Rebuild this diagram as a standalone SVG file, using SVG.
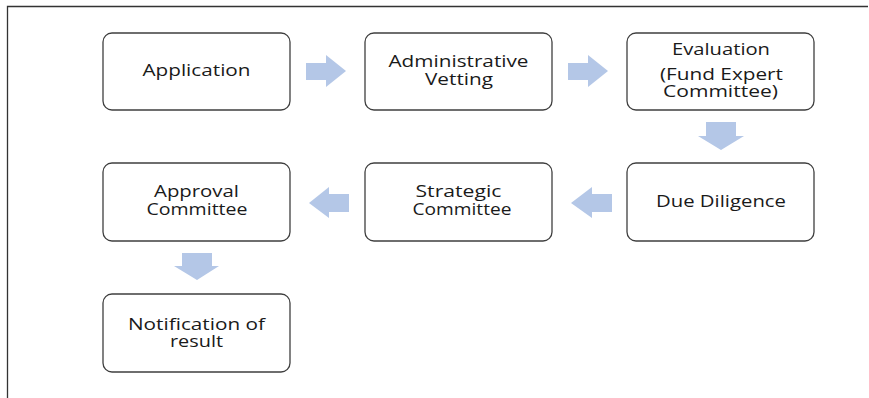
<svg xmlns="http://www.w3.org/2000/svg" width="869" height="398" viewBox="0 0 869 398">
<style>
.box{fill:#ffffff;stroke:#3f3f3f;stroke-width:1.3}
.t{font-family:"Open Sans","Noto Sans",sans-serif;font-size:15.5px;fill:#1a1a1a;text-anchor:middle}
.arr{fill:#b4c7e7}
.frame{stroke:#333333;stroke-width:1.3;fill:none}
</style>
<rect width="869" height="398" fill="#ffffff"/>
<path class="frame" d="M7.5,398 V6.5 H868"/>
<g id="connectors">
<polygon class="arr" points="306,63 326,63 326,55 346,71 326,87 326,80 306,80"/>
<polygon class="arr" points="568,63 588,63 588,55 608,71 588,87 588,80 568,80"/>
<polygon class="arr" points="706,122 736,122 736,136 744,136 721,150 698,136 706,136"/>
<polygon class="arr" points="612,194 592,194 592,187 571,203 592,218 592,212 612,212"/>
<polygon class="arr" points="349,194 329,194 329,187 309,203 329,218 329,212 349,212"/>
<polygon class="arr" points="182,253 212,253 212,266 219,266 197,280 174,266 182,266"/>
</g>
<g id="application"><rect class="box" x="103" y="33" width="187" height="77" rx="9"/><text class="t" x="196.5" y="76" textLength="108" lengthAdjust="spacingAndGlyphs">Application</text></g>
<g id="administrative-vetting"><rect class="box" x="365" y="33" width="187" height="77" rx="9"/><text class="t" x="458.5" y="67" textLength="140" lengthAdjust="spacingAndGlyphs">Administrative</text><text class="t" x="459" y="85" textLength="68" lengthAdjust="spacingAndGlyphs">Vetting</text></g>
<g id="evaluation"><rect class="box" x="627" y="33" width="187" height="77" rx="9"/><text class="t" x="721" y="55" textLength="98" lengthAdjust="spacingAndGlyphs">Evaluation</text><text class="t" x="721.5" y="80" textLength="123" lengthAdjust="spacingAndGlyphs">(Fund Expert</text><text class="t" x="720.5" y="97" textLength="115" lengthAdjust="spacingAndGlyphs">Committee)</text></g>
<g id="due-diligence"><rect class="box" x="627" y="163" width="187" height="78" rx="9"/><text class="t" x="721" y="207" textLength="130" lengthAdjust="spacingAndGlyphs">Due Diligence</text></g>
<g id="strategic-committee"><rect class="box" x="365" y="163" width="187" height="78" rx="9"/><text class="t" x="458.5" y="197" textLength="86" lengthAdjust="spacingAndGlyphs">Strategic</text><text class="t" x="462" y="215" textLength="99" lengthAdjust="spacingAndGlyphs">Committee</text></g>
<g id="approval-committee"><rect class="box" x="103" y="163" width="187" height="78" rx="9"/><text class="t" x="196.5" y="197" textLength="85" lengthAdjust="spacingAndGlyphs">Approval</text><text class="t" x="197" y="215" textLength="101" lengthAdjust="spacingAndGlyphs">Committee</text></g>
<g id="notification"><rect class="box" x="103" y="294" width="187" height="78" rx="9"/><text class="t" x="196.5" y="330" textLength="137" lengthAdjust="spacingAndGlyphs">Notification of</text><text class="t" x="196.5" y="347" textLength="53" lengthAdjust="spacingAndGlyphs">result</text></g>
</svg>
